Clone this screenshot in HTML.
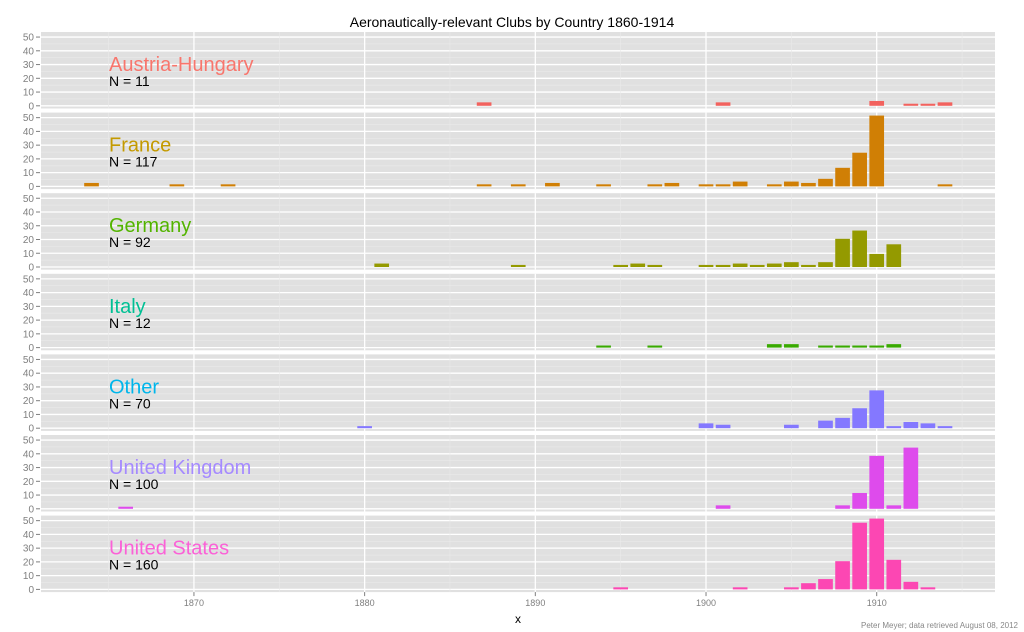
<!DOCTYPE html>
<html><head><meta charset="utf-8"><style>
body{margin:0;background:#fff;}
svg{display:block;font-family:"Liberation Sans",Arial,sans-serif;}
</style></head><body>
<svg id="chart" width="1024" height="632">
<text x="512" y="27" text-anchor="middle" font-size="14" fill="#000">Aeronautically-relevant Clubs by Country 1860-1914</text>
<g id="panels"></g>
<text x="518" y="623" text-anchor="middle" font-size="12" fill="#000">x</text>
<text x="1018" y="628" text-anchor="end" font-size="8" fill="#888">Peter Meyer; data retrieved August 08, 2012</text>
</svg>
<script>
const countries = ["Austria-Hungary","France","Germany","Italy","Other","United Kingdom","United States"];
const totals = [11,117,92,12,70,100,160];
const labelColors = ["#F8766D","#C49A00","#53B400","#00C094","#00B6EB","#A58AFF","#FB61D7"];
const barColors = ["#F2625E","#D07F05","#949A00","#39AA00","#8478FF","#DE4BEC","#FC47B3"];
const yearsAH = [1887,1901,1910,1912,1913,1914];
const countsAH = [2,2,3,1,1,2];
const yearsFR = [1864,1869,1872,1887,1889,1891,1894,1897,1898,1900,1901,1902,1904,1905,1906,1907,1908,1909,1910,1914];
const countsFR = [2,1,1,1,1,2,1,1,2,1,1,3,1,3,2,5,13,24,51,1];
const yearsDE = [1881,1889,1895,1896,1897,1900,1901,1902,1903,1904,1905,1906,1907,1908,1909,1910,1911];
const countsDE = [2,1,1,2,1,1,1,2,1,2,3,1,3,20,26,9,16];
const yearsIT = [1894,1897,1904,1905,1907,1908,1909,1910,1911];
const countsIT = [1,1,2,2,1,1,1,1,2];
const yearsOT = [1880,1900,1901,1905,1907,1908,1909,1910,1911,1912,1913,1914];
const countsOT = [1,3,2,2,5,7,14,27,1,4,3,1];
const yearsUK = [1866,1901,1908,1909,1910,1911,1912];
const countsUK = [1,2,2,11,38,2,44];
const yearsUS = [1895,1902,1905,1906,1907,1908,1909,1910,1911,1912,1913];
const countsUS = [1,1,1,4,7,20,48,51,21,5,1];
const yTicks = [0,10,20,30,40,50];
const xTicks = [1870,1880,1890,1900,1910];

const seriesYears = [yearsAH,yearsFR,yearsDE,yearsIT,yearsOT,yearsUK,yearsUS];
const seriesCounts = [countsAH,countsFR,countsDE,countsIT,countsOT,countsUK,countsUS];

const NS="http://www.w3.org/2000/svg";
const L=41,R=995,PH=76.5,STEP=80.6,TOP0=32;
const x0=1861.04,x1=1916.93;
function xs(v){return L+(v-x0)/(x1-x0)*(R-L);}
function ys(v,top){return top+73.8-v*1.375;}
function mk(tag,attrs,parent){const e=document.createElementNS(NS,tag);for(const k in attrs)e.setAttribute(k,attrs[k]);parent.appendChild(e);return e;}
const g=document.getElementById('panels');
countries.forEach((c,i)=>{
  const top=TOP0+STEP*i;
  const pg=mk('g',{},g);
  
  
  const bg=mk('rect',{x:L,y:top,width:R-L,height:PH,fill:'#E0E0E0'},pg);
  
  
  for(let v=-5;v<=55;v+=5){
    const y=ys(v,top); if(y<top||y>top+PH) continue;
    mk('line',{x1:L,x2:R,y1:y,y2:y,stroke:v%10===0?'#fff':'#EAEAEA','stroke-width':v%10===0?1.3:0.6},pg);
  }
  for(let v=1865;v<=1915;v+=5){
    const x=xs(v);
    mk('line',{x1:x,x2:x,y1:top,y2:top+PH,stroke:v%10===0?'#fff':'#EAEAEA','stroke-width':v%10===0?1.3:0.6},pg);
  }
  yTicks.forEach(t=>{
    const y=ys(t,top);
    mk('line',{x1:36,x2:40,y1:y,y2:y,stroke:'#7F7F7F','stroke-width':1},pg);
    const tx=mk('text',{x:34,y:y+3.5,'text-anchor':'end','font-size':10,fill:'#7F7F7F'},pg);
    tx.textContent=t;
    
    
  });
  const yrs=seriesYears[i],cnt=seriesCounts[i];
  yrs.forEach((yr,j)=>{
    const xa=xs(yr-0.43),xb=xs(yr+0.43),yt=ys(cnt[j],top)-0.7,y0=ys(0,top);
    const b=mk('rect',{x:xa,y:yt,width:xb-xa,height:y0-yt,fill:barColors[i]},pg);
    
    
  });
  const t1=mk('text',{x:109,y:top+39,'font-size':20,fill:labelColors[i]},pg);
  t1.textContent=c;
  
  
  const t2=mk('text',{x:109,y:top+54,'font-size':14,fill:'#000'},pg);
  t2.textContent='N = '+totals[i];
  
  
});
const lastBottom=TOP0+STEP*6+PH;
xTicks.forEach(t=>{
  const x=xs(t);
  mk('line',{x1:x,x2:x,y1:lastBottom,y2:lastBottom+4,stroke:'#7F7F7F','stroke-width':1},g);
  const tx=mk('text',{x:x,y:lastBottom+14,'text-anchor':'middle','font-size':9,fill:'#7F7F7F'},g);
  tx.textContent=t;
  
  
});
</script>
</body></html>
